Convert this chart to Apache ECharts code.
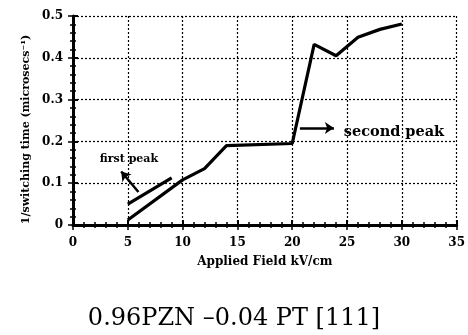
<!DOCTYPE html>
<html>
<head>
<meta charset="utf-8">
<script src="https://cdn.jsdelivr.net/npm/echarts@6/dist/echarts.min.js"></script>
<style>html,body{margin:0;padding:0;background:#fff;}#c{width:468px;height:335px;}</style>
</head>
<body>
<div id="c"></div>
<script>
// Main curve: applied field (kV/cm) vs 1/switching time
var mainX = [5, 10, 12, 14, 20, 22, 24, 26, 28, 30];
var mainY = [0.012, 0.108, 0.135, 0.19, 0.195, 0.432, 0.405, 0.449, 0.468, 0.481];
// First peak short curve
var peakX = [5, 9];
var peakY = [0.05, 0.113];
var xTicks = [0, 5, 10, 15, 20, 25, 30, 35];
var yTicks = [0, 0.1, 0.2, 0.3, 0.4, 0.5];
var titleText = '0.96PZN \u20130.04 PT [111]';
var xName = 'Applied Field kV/cm';
var yName = '1/switching time (microsecs\u207B\u00B9)';
var firstPeakLabel = 'first peak';
var secondPeakLabel = 'second peak';

var serif = '"DejaVu Serif", "Liberation Serif", serif';
function pairs(xs, ys){ return xs.map(function(x,i){ return [x, ys[i]]; }); }

var chart = echarts.init(document.getElementById('c'));
var tickLab = {color:'#000', fontFamily: serif, fontWeight:'bold', fontSize: 12};
chart.setOption({
  animation: false,
  backgroundColor: '#fff',
  title: {
    text: titleText, left: 'center', top: 302,
    textStyle: {fontFamily: serif, fontSize: 24, fontWeight: 'normal', color: '#000'}
  },
  grid: {left: 73, top: 16, right: 8, bottom: 110},
  xAxis: [{
    type: 'value', min: 0, max: 35, interval: 5,
    name: xName, nameLocation: 'middle', nameGap: 31,
    nameTextStyle: {fontFamily: serif, fontWeight: 'bold', fontSize: 12, color: '#000'},
    axisLine: {lineStyle: {color: '#000', width: 3}},
    axisTick: {inside: true, length: 5, lineStyle: {color: '#000', width: 2}},
    minorTick: {show: true, splitNumber: 5, length: 3, lineStyle: {color: '#000', width: 1.5}},
    axisLabel: Object.assign({margin: 12}, tickLab),
    splitLine: {show: true, lineStyle: {color: '#000', type: [2, 2], width: 1.2}}
  }, {
    type: 'value', min: 0, max: 35, interval: 5, position: 'top',
    axisLine: {show: true, lineStyle: {color: '#000', width: 2}},
    axisTick: {inside: true, length: 5, lineStyle: {color: '#000', width: 1.5}},
    minorTick: {show: true, splitNumber: 5, length: 3, lineStyle: {color: '#000', width: 1.5}},
    axisLabel: {show: false}, splitLine: {show: false}
  }],
  yAxis: [{
    type: 'value', min: 0, max: 0.5, interval: 0.1,
    name: yName, nameLocation: 'middle', nameGap: 30,
    nameTextStyle: {fontFamily: serif, fontWeight: 'bold', fontSize: 11, color: '#000', padding: [0, 18, 0, 0]},
    axisLine: {show: true, lineStyle: {color: '#000', width: 3}},
    axisTick: {show: true, inside: true, length: 5, lineStyle: {color: '#000', width: 2}},
    minorTick: {show: true, splitNumber: 5, length: 3, lineStyle: {color: '#000', width: 1.5}},
    axisLabel: Object.assign({margin: 10, formatter: function(v){ return v === 0 ? '0' : v.toFixed(1); }}, tickLab),
    splitLine: {show: true, lineStyle: {color: '#000', type: [2, 2], width: 1.2}}
  }, {
    type: 'value', min: 0, max: 0.5, interval: 0.1, position: 'right',
    axisLine: {show: true, lineStyle: {color: '#000', width: 2, type: [3, 2]}},
    axisTick: {show: true, inside: true, length: 5, lineStyle: {color: '#000', width: 1.5}},
    minorTick: {show: true, splitNumber: 5, length: 3, lineStyle: {color: '#000', width: 1.5}},
    axisLabel: {show: false}, splitLine: {show: false}
  }],
  series: [{
    type: 'line', data: pairs(mainX, mainY), symbol: 'none',
    lineStyle: {color: '#000', width: 3.2}, z: 5,
    markLine: {
      silent: true, symbol: ['none', 'arrow'], symbolSize: 9,
      lineStyle: {color: '#000', width: 2.5, type: 'solid'},
      label: {show: false},
      data: [
        [{coord: [5.97, 0.079]}, {coord: [4.4, 0.128]}],
        [{coord: [20.7, 0.232]}, {coord: [23.8, 0.232]}]
      ]
    },
    markPoint: {
      silent: true, symbol: 'circle', symbolSize: 0,
      data: [
        {coord: [5.1, 0.157], label: {show: true, formatter: firstPeakLabel, position: 'inside', fontFamily: serif, fontWeight: 'bold', fontSize: 11, color: '#000'}},
        {coord: [24.7, 0.221], label: {show: true, formatter: secondPeakLabel, position: 'right', distance: 0, fontFamily: serif, fontWeight: 'bold', fontSize: 14.5, color: '#000'}}
      ]
    }
  }, {
    type: 'line', data: pairs(peakX, peakY), symbol: 'none',
    lineStyle: {color: '#000', width: 3.2}, z: 5
  }]
});
</script>
</body>
</html>
